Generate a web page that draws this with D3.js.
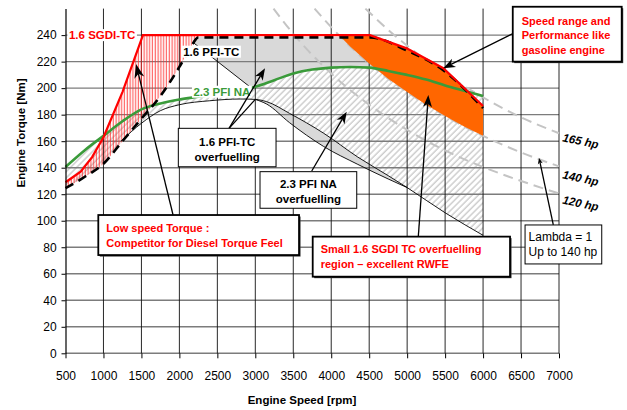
<!DOCTYPE html>
<html>
<head>
<meta charset="utf-8">
<script src="https://cdn.jsdelivr.net/npm/d3@7"></script>
<style>
  html, body { margin: 0; padding: 0; background: #fff; }
  svg { display: block; font-family: "Liberation Sans", Arial, sans-serif; }
</style>
</head>
<body>
<svg id="chart" width="627" height="410"></svg>
<script>
// ---- axis ticks ----
const xTicks = [500, 1000, 1500, 2000, 2500, 3000, 3500, 4000, 4500, 5000, 5500, 6000, 6500, 7000];
const yTicks = [0, 20, 40, 60, 80, 100, 120, 140, 160, 180, 200, 220, 240];

// ---- 1.6 SGDI-TC full load (red) ----
const sgdiRpm = [500, 700, 850, 1000, 1250, 1520, 2250, 4510, 4994, 5476, 6000];
const sgdiNm  = [129, 137, 148, 163, 197, 240, 240, 240, 230, 215, 186.5];

// ---- 1.6 PFI-TC full load (black dashed) ----
const pfiTcRpm = [500, 750, 1000, 1250, 1500, 1750, 2000, 2150, 2250, 4510, 4994, 5476, 6000];
const pfiTcNm  = [124.5, 133, 143, 160, 177, 194, 216, 231, 238.3, 238.3, 228.5, 213.5, 185];

// ---- 2.3 PFI NA full load (green) ----
const naRpm = [500, 750, 1000, 1250, 1500, 1750, 2000, 2250, 2500, 2750, 3000, 3250, 3500, 3750, 4000, 4250, 4500, 4750, 5000, 5250, 5500, 5750, 6000];
const naNm  = [140.5, 153, 164, 175, 184, 188.5, 191.5, 193.5, 195.5, 197.5, 201, 206, 211, 214, 215.5, 216, 215.5, 213, 210, 206.5, 202, 198, 194];

// ---- 2.3 PFI NA lambda=1 limit (thin black) ----
const naLimitRpm = [1230, 1500, 1750, 2000, 2400, 2800, 3000, 3150, 3450, 3900, 4350, 4750, 5000, 5500, 6000];
const naLimitNm  = [160, 173.5, 183, 187.5, 190.5, 191.8, 191.5, 189.8, 181, 166, 148, 134, 125, 106, 89];

// ---- lower edge of the 2.3 PFI NA overfuelling lens ----
const lensLowRpm = [3000, 3150, 3450, 3900, 4350, 4750, 5000];
const lensLowNm  = [191.5, 188, 174, 156, 142.5, 131.5, 125];

// ---- 1.6 PFI-TC overfuelling region (grey) ----
const pfiTcOverRpm = [2180, 2250, 4650, 4650, 4500, 4250, 4000, 3750, 3500, 3250, 3000, 2951];
const pfiTcOverNm  = [234.5, 238.5, 238.5, 214.5, 215.5, 216, 215.5, 214, 211, 206, 201, 200];

// ---- 1.6 SGDI-TC overfuelling region (orange) ----
const sgdiOverRpm = [4100, 4510, 4994, 5476, 6000, 6000, 5750, 5500, 5250, 5000, 4750, 4500, 4250, 4100];
const sgdiOverNm  = [240, 240, 230, 215, 186.5, 164, 171, 179, 187.5, 197, 207, 218.5, 231.5, 240];

// ---- constant power lines ----
const hp165Rpm = [4450, 4750, 5000, 5500, 6000, 6500, 7000];
const hp165Nm  = [260, 244, 232, 211, 193, 178, 166];
const hp140Rpm = [3780, 4000, 4500, 5000, 5500, 6000, 6500, 7000];
const hp140Nm  = [260, 246, 218.5, 197, 179, 164, 151.5, 141];
const hp120Rpm = [3240, 3500, 4000, 4500, 5000, 5500, 6000, 6500, 7000];
const hp120Nm  = [260, 241, 211, 187.5, 168.5, 153, 140.5, 130, 120.5];
const hpLabels  = ["165 hp", "140 hp", "120 hp"];
const hpLabelNm = [160, 132, 113];

// ---- drawing ----
const svg = d3.select("#chart");
const x = d3.scaleLinear().domain([500, 7000]).range([65.5, 559]);
const y = d3.scaleLinear().domain([0, 260]).range([353.3, 8.6]);

const RED = "#ff0000", GREEN = "#3a9b3a", ORANGE = "#ff6600", LIGHT = "#d9d9d9";
const zip = (xs, ys) => xs.map((v, i) => [v, ys[i]]);
const gen = (curve) => d3.line().x(d => x(d[0])).y(d => y(d[1])).curve(curve || d3.curveLinear);
const mono = gen(d3.curveMonotoneX), lin = gen(d3.curveLinear);
const join = (a, b) => a + b.replace(/^M/, "L") + "Z";

const defs = svg.append("defs");
const gh = defs.append("pattern").attr("id", "grayHatch").attr("patternUnits", "userSpaceOnUse")
  .attr("width", 4.4).attr("height", 4.4).attr("patternTransform", "rotate(45)");
gh.append("line").attr("x1", 1).attr("y1", 0).attr("x2", 1).attr("y2", 4.4)
  .attr("stroke", "#c2c2c2").attr("stroke-width", 1.2);
const rh = defs.append("pattern").attr("id", "redHatch").attr("patternUnits", "userSpaceOnUse")
  .attr("width", 2.8).attr("height", 10);
rh.append("line").attr("x1", 1.2).attr("y1", 0).attr("x2", 1.2).attr("y2", 10)
  .attr("stroke", "#ff2a2a").attr("stroke-width", 0.9);

const na = zip(naRpm, naNm);
const naLimit = zip(naLimitRpm, naLimitNm);
const pfiTc = zip(pfiTcRpm, pfiTcNm);
const sgdi = zip(sgdiRpm, sgdiNm);

// grey hatched band below the 2.3 PFI NA curve
const lowerBound = pfiTc.filter(d => d[0] < 1230).concat(naLimit);
svg.append("path")
  .attr("d", join(mono(na), mono(lowerBound.slice().reverse())))
  .attr("fill", "url(#grayHatch)");

// 1.6 PFI-TC overfuelling area
svg.append("path").attr("d", lin(zip(pfiTcOverRpm, pfiTcOverNm)) + "Z").attr("fill", LIGHT);

// 2.3 PFI NA overfuelling lens
const lensTop = naLimit.filter(d => d[0] >= 3000 && d[0] <= 5000);
svg.append("path")
  .attr("d", join(mono(lensTop), mono(zip(lensLowRpm, lensLowNm).reverse())))
  .attr("fill", LIGHT);

// grid
const grid = svg.append("g");
grid.selectAll("line.h").data(yTicks).join("line")
  .attr("x1", x(500)).attr("x2", x(7000)).attr("y1", d => y(d)).attr("y2", d => y(d))
  .attr("stroke", "#7c7c7c").attr("stroke-width", 1.4);
grid.selectAll("line.v").data(xTicks.slice(1)).join("line")
  .attr("x1", d => x(d)).attr("x2", d => x(d)).attr("y1", y(0)).attr("y2", y(260))
  .attr("stroke", "#111").attr("stroke-width", 0.9);

// red hatched area between SGDI-TC and PFI-TC
const sgdiLow = sgdi.filter(d => d[0] <= 2250);
const pfiLow = pfiTc.filter(d => d[0] <= 2250);
svg.append("path").attr("d", join(lin(sgdiLow), mono(pfiLow.slice().reverse())))
  .attr("fill", "url(#redHatch)");

// constant power lines
[[hp165Rpm, hp165Nm], [hp140Rpm, hp140Nm], [hp120Rpm, hp120Nm]].forEach(([r, n]) => {
  svg.append("path").attr("d", mono(zip(r, n))).attr("fill", "none")
    .attr("stroke", "#c4c4c4").attr("stroke-width", 2).attr("stroke-dasharray", "10,6");
});

// SGDI-TC overfuelling area
svg.append("path").attr("d", lin(zip(sgdiOverRpm, sgdiOverNm)) + "Z").attr("fill", ORANGE);

// thin boundary lines
const thin = { fill: "none", stroke: "#000", "stroke-width": 0.9 };
const applyAttrs = (sel, a) => { Object.entries(a).forEach(([k, v]) => sel.attr(k, v)); return sel; };
applyAttrs(svg.append("path").attr("d", mono(naLimit)), thin);
applyAttrs(svg.append("path").attr("d", mono(zip(lensLowRpm, lensLowNm))), thin);
applyAttrs(svg.append("path").attr("d", lin([[2180, 234.5], [2951, 200]])), thin);

// full load curves
svg.append("path").attr("d", mono(na)).attr("fill", "none").attr("stroke", GREEN).attr("stroke-width", 2.6);
svg.append("path").attr("d", mono(pfiTc)).attr("fill", "none").attr("stroke", "#000")
  .attr("stroke-width", 2.6).attr("stroke-dasharray", "9,6");
svg.append("path").attr("d", lin(sgdi)).attr("fill", "none").attr("stroke", RED).attr("stroke-width", 2.2);

// axes
const yAxis = svg.append("g").attr("transform", `translate(${x(500)},0)`)
  .call(d3.axisLeft(y).tickValues(yTicks).tickSize(4).tickPadding(4.8).tickSizeOuter(0));
const xAxis = svg.append("g").attr("transform", `translate(0,${y(0)})`)
  .call(d3.axisBottom(x).tickValues(xTicks).tickFormat(d3.format("d"))
    .tickSize(5).tickPadding(13).tickSizeOuter(0));
xAxis.select(".domain").remove();
yAxis.select(".domain").attr("stroke", "#000").attr("stroke-width", 1.2);
[xAxis, yAxis].forEach(a => {
  a.selectAll("text").attr("font-family", "Liberation Sans, Arial, sans-serif").attr("font-size", 12).attr("fill", "#000");
  a.selectAll(".tick line").attr("stroke", "#000");
});

// axis titles
svg.append("text").attr("x", 302).attr("y", 404).attr("text-anchor", "middle")
  .attr("font-weight", "bold").attr("font-size", 11.5).text("Engine Speed [rpm]");
svg.append("text").attr("transform", "translate(25,133) rotate(-90)").attr("text-anchor", "middle")
  .attr("font-weight", "bold").attr("font-size", 11.5).text("Engine Torque [Nm]");

// series labels on white backing
function tag(tx, ty, str, color, anchor) {
  const g = svg.append("g");
  const t = g.append("text").attr("x", tx).attr("y", ty).attr("text-anchor", anchor || "start")
    .attr("font-weight", "bold").attr("font-size", 11.5).attr("fill", color).text(str);
  const b = t.node().getBBox();
  g.insert("rect", "text").attr("x", b.x - 1.5).attr("y", b.y).attr("width", b.width + 3)
    .attr("height", b.height).attr("fill", "#fff");
}
tag(x(1500) - 6, y(240) + 4, "1.6 SGDI-TC", RED, "end");
tag(x(2050), y(227.5) + 4, "1.6 PFI-TC", "#000");
tag(x(2185), y(197.3) + 4, "2.3 PFI NA", GREEN);

// power line labels
hpLabels.forEach((s, i) => {
  svg.append("text").attr("transform", `translate(${x(7000) + 3},${y(hpLabelNm[i])}) rotate(12)`)
    .attr("font-weight", "bold").attr("font-style", "italic").attr("font-size", 11.5).text(s);
});

// arrows
function arrow(tail, tip, len, wid) {
  const x0 = x(tail[0]), y0 = y(tail[1]), x1 = x(tip[0]), y1 = y(tip[1]);
  const dx = x1 - x0, dy = y1 - y0, d = Math.hypot(dx, dy), ux = dx / d, uy = dy / d;
  if (len > 0) {
    const bx = x1 - ux * len, by = y1 - uy * len;
    const nx = x1 - ux * len * 0.72, ny = y1 - uy * len * 0.72;
    svg.append("line").attr("x1", x0).attr("y1", y0).attr("x2", nx).attr("y2", ny)
      .attr("stroke", "#000").attr("stroke-width", 1.3);
    svg.append("path").attr("d",
      `M${x1},${y1}L${bx - uy * wid / 2},${by + ux * wid / 2}L${nx},${ny}L${bx + uy * wid / 2},${by - ux * wid / 2}Z`)
      .attr("fill", "#000");
  } else {
    svg.append("line").attr("x1", x0).attr("y1", y0).attr("x2", x1).attr("y2", y1)
      .attr("stroke", "#000").attr("stroke-width", 1.3);
  }
}
arrow([1917, 104.3], [1429, 218.2], 14, 10);
arrow([2654, 169.7], [3000, 191.5], 0, 0);
arrow([2654, 169.7], [3128, 215], 12, 9);
arrow([3743, 137.5], [4204, 182.2], 12, 9);
arrow([5147, 88], [5279, 194.8], 12, 9);
arrow([6399, 241.4], [5476, 215], 12, 9);
arrow([6925, 96.8], [6737, 147.3], 6, 5);

// callout boxes
const callouts = [
  { x0: 932, x1: 3576, y0: 104.3, y1: 74.1, lines: ["Low speed Torque :", "Competitor for Diesel Torque Feel"],
    color: RED, weight: "bold", size: 11, anchor: "start", pad: 8, base: [16.5, 32], heavy: true },
  { x0: 1986, x1: 3273, y0: 169.7, y1: 140.7, lines: ["1.6 PFI-TC", "overfuelling"],
    color: "#000", weight: "bold", size: 11.5, anchor: "middle", pad: 0, base: [17.5, 32.5], heavy: false },
  { x0: 3062, x1: 4336, y0: 137, y1: 109.4, lines: ["2.3 PFI NA", "overfuelling"],
    color: "#000", weight: "bold", size: 11.5, anchor: "middle", pad: 0, base: [16, 31], heavy: false },
  { x0: 3756, x1: 6355, y0: 88, y1: 57.8, lines: ["Small 1.6 SGDI TC overfuelling", "region \u2013 excellent RWFE"],
    color: RED, weight: "bold", size: 11, anchor: "start", pad: 8, base: [16, 31.5], heavy: true },
  { x0: 6553, x1: 7563, y0: 96.8, y1: 67.4, lines: ["Lambda = 1", "Up to 140 hp"],
    color: "#000", weight: "normal", size: 12, anchor: "start", pad: 3.5, base: [16, 31.5], heavy: false },
  { x0: 6391, x1: 7826, y0: 261.4, y1: 220, lines: ["Speed range and", "Performance like", "gasoline engine"],
    color: RED, weight: "bold", size: 11, anchor: "start", pad: 9, base: [18, 32.5, 47], heavy: true }
];
callouts.forEach(c => {
  const bx = x(c.x0), by = y(c.y0), bw = x(c.x1) - x(c.x0), bh = y(c.y1) - y(c.y0);
  const g = svg.append("g");
  if (c.heavy) {
    g.append("rect").attr("x", bx + 1.5).attr("y", by + 1.5).attr("width", bw).attr("height", bh).attr("fill", "#333");
  }
  g.append("rect").attr("x", bx).attr("y", by).attr("width", bw).attr("height", bh)
    .attr("fill", "#fff").attr("stroke", "#000").attr("stroke-width", c.heavy ? 1.8 : 1);
  const tx = c.anchor === "middle" ? bx + bw / 2 : bx + c.pad;
  c.lines.forEach((s, i) => {
    g.append("text").attr("x", tx).attr("y", by + c.base[i]).attr("text-anchor", c.anchor)
      .attr("font-weight", c.weight).attr("font-size", c.size).attr("fill", c.color).text(s);
  });
});
</script>
</body>
</html>
